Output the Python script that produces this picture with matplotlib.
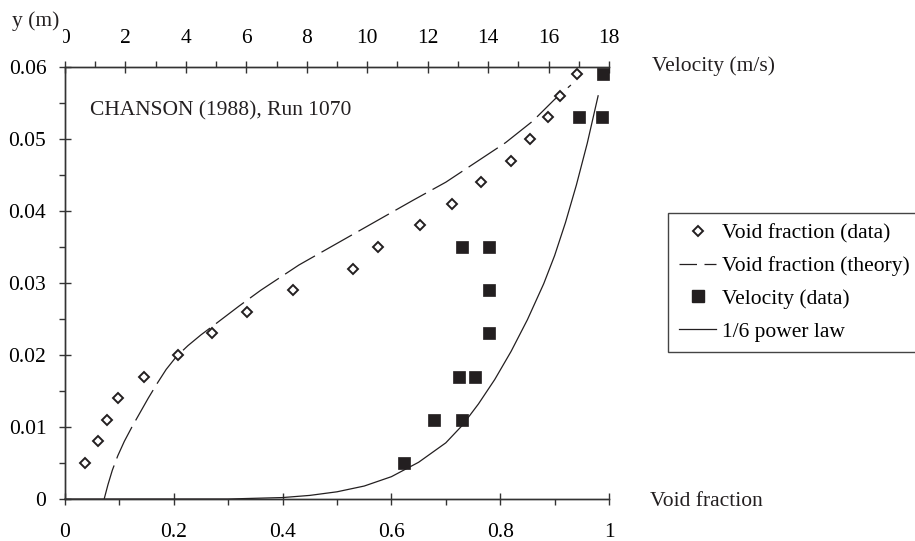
import numpy as np
import matplotlib
matplotlib.use('Agg')
from matplotlib import pyplot as plt
from matplotlib.lines import Line2D
from matplotlib.patches import Rectangle

plt.rcParams['font.family'] = ['Liberation Serif', 'DejaVu Serif']

# void fraction data (C, y)
void_c = [0.037, 0.060, 0.078, 0.098, 0.146, 0.208, 0.270, 0.335, 0.420, 0.530, 0.575,
          0.653, 0.712, 0.765, 0.820, 0.855, 0.888, 0.910, 0.941]
void_y = [0.005, 0.008, 0.011, 0.014, 0.017, 0.020, 0.023, 0.026, 0.029, 0.032, 0.035,
          0.038, 0.041, 0.044, 0.047, 0.050, 0.053, 0.056, 0.059]

# void fraction theory curve
theory_c = [0.072, 0.079, 0.087, 0.097, 0.109, 0.123, 0.138, 0.153, 0.169, 0.186, 0.205,
            0.226, 0.250, 0.280, 0.320, 0.360, 0.430, 0.500, 0.570, 0.640, 0.700, 0.760,
            0.810, 0.860, 0.900, 0.930]
theory_y = [0.0, 0.002, 0.004, 0.006, 0.008, 0.010, 0.012, 0.014, 0.016, 0.018, 0.0198,
            0.0213, 0.0228, 0.0245, 0.0268, 0.0290, 0.0325, 0.0355, 0.0385, 0.0415, 0.0440,
            0.0470, 0.0495, 0.0525, 0.0555, 0.0575]

# velocity data (V in m/s, y)
vel_v = [11.23, 12.22, 13.12, 13.05, 13.58, 14.04, 14.04, 13.12, 14.04, 17.01, 17.78, 17.80]
vel_y = [0.005, 0.011, 0.011, 0.017, 0.017, 0.023, 0.029, 0.035, 0.035, 0.053, 0.053, 0.059]

# 1/6 power law curve (V in m/s, y)
pow_v = [0.0, 5.4, 6.3, 7.2, 8.1, 9.0, 9.9, 10.8, 11.7, 12.6, 13.14, 13.68, 14.22, 14.76,
         15.3, 15.84, 16.2, 16.56, 16.92, 17.28, 17.64]
pow_y = [0.0, 0.0, 0.0001, 0.0002, 0.0005, 0.0010, 0.0018, 0.0031, 0.0051, 0.0078, 0.0102,
         0.0132, 0.0166, 0.0205, 0.0249, 0.0299, 0.0338, 0.0384, 0.0436, 0.0494, 0.0560]

y_ticks = [0, 0.01, 0.02, 0.03, 0.04, 0.05, 0.06]
y_labels = ['0', '0.01', '0.02', '0.03', '0.04', '0.05', '0.06']
c_ticks = [0, 0.2, 0.4, 0.6, 0.8, 1.0]
c_labels = ['0', '0.2', '0.4', '0.6', '0.8', '1']
v_ticks = [0, 2, 4, 6, 8, 10, 12, 14, 16, 18]

ink = '#231f20'
axc = '#333333'
fs = 15.5

fig = plt.figure(figsize=(9.15, 5.41), dpi=100)
ax = fig.add_axes([65 / 915, 1 - 499 / 541, 544 / 915, 432 / 541])
ax2 = ax.twiny()

ax.set_xlim(0, 1)
ax.set_ylim(0, 0.06)
ax2.set_xlim(0, 18)

for a in (ax, ax2):
    a.spines['right'].set_visible(False)
    a.patch.set_visible(False)
    for s in a.spines.values():
        s.set_color(axc)
        s.set_linewidth(1.0)

ax.set_yticks(y_ticks)
ax.set_yticklabels(y_labels)
ax.set_yticks(np.arange(0.005, 0.06, 0.01), minor=True)
ax.set_xticks(c_ticks)
ax.set_xticklabels(c_labels)
ax.set_xticks([0.1, 0.3, 0.5, 0.7, 0.9], minor=True)
ax2.set_xticks(v_ticks)
ax2.set_xticklabels([str(v) for v in v_ticks])
ax2.set_xticks(np.arange(1, 18, 2), minor=True)
ax2.tick_params(axis='y', left=False, labelleft=False)

for a in (ax, ax2):
    a.tick_params(which='major', direction='inout', length=9, width=1.0, color=axc,
                  labelsize=fs, pad=9)
    a.tick_params(which='minor', direction='out', length=4.5, width=1.0, color=axc)
ax.tick_params(axis='x', which='major', pad=13)

# void fraction
ax.plot(theory_c, theory_y, color=ink, lw=0.9, dashes=(28, 6), clip_on=False)
ax.plot(void_c, void_y, 'D', ms=5.5, mfc='white', mec=ink, mew=1.4, ls='none', clip_on=False,
        zorder=3)

# velocity
ax2.plot(pow_v, pow_y, color=ink, lw=0.9, clip_on=False)
ax2.plot(vel_v, vel_y, 's', ms=9.3, mfc=ink, mec=ink, mew=0.5, ls='none', clip_on=False, zorder=3)

ax.text((90 - 65) / 544, 1 - (111 - 67) / 432, 'CHANSON (1988), Run 1070', transform=ax.transAxes,
        fontsize=fs, va='center', ha='left', color=ink)

# white patch behind "y (m)" hides most of the top "0" label, as in the original
fig.patches.append(Rectangle((6 / 915, 1 - 44 / 541), 57 / 915, 38 / 541, transform=fig.transFigure,
                             facecolor='white', edgecolor='none', zorder=5))
fig.text(12 / 915, 1 - 21 / 541, 'y (m)', fontsize=fs, va='center', ha='left', color=ink, zorder=6)
fig.text(652 / 915, 1 - 66 / 541, 'Velocity (m/s)', fontsize=fs, va='center', ha='left', color=ink)
fig.text(650 / 915, 1 - 502 / 541, 'Void fraction', fontsize=fs, va='center', ha='left', color=ink)

handles = [
    Line2D([], [], marker='D', ms=5.5, mfc='white', mec=ink, mew=1.4, ls='none'),
    Line2D([], [], color=ink, lw=0.9, ls=(14, (28, 6))),
    Line2D([], [], marker='s', ms=9.3, mfc=ink, mec=ink, ls='none'),
    Line2D([], [], color=ink, lw=0.9),
]
labels = ['Void fraction (data)', 'Void fraction (theory)', 'Velocity (data)', '1/6 power law']
leg = fig.legend(handles, labels, loc='upper left', bbox_to_anchor=(668 / 915, 1 - 213 / 541),
                 borderaxespad=0, fontsize=fs, frameon=True, fancybox=False, framealpha=1,
                 edgecolor='#444444', handlelength=1.75, handletextpad=0.25,
                 labelspacing=0.58, borderpad=0.5)
leg.get_frame().set_linewidth(1.0)

fig.savefig('out.png', dpi=100)
